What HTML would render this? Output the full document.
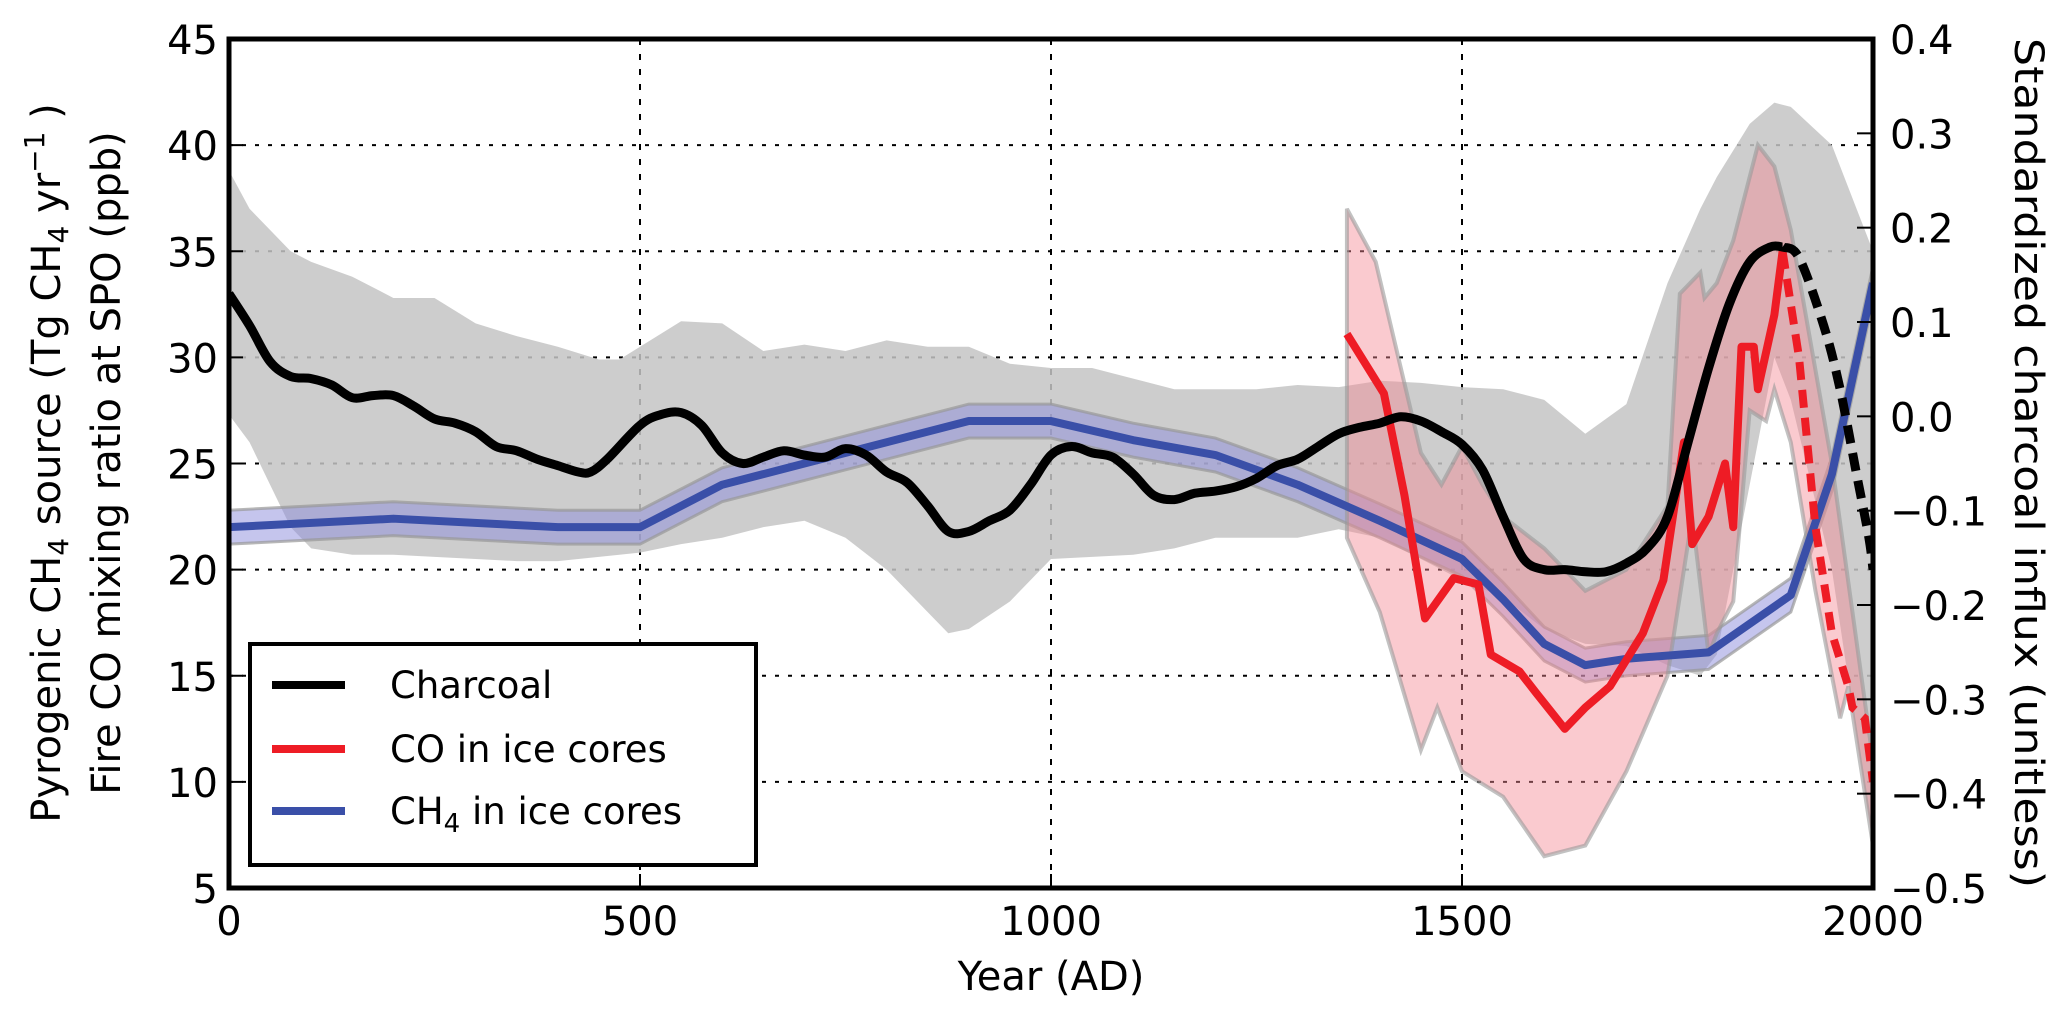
<!DOCTYPE html>
<html><head><meta charset="utf-8"><style>
html,body{margin:0;padding:0;background:#fff;}
svg{display:block;font-family:"DejaVu Sans","Liberation Sans",sans-serif;}
</style></head><body>
<svg id="chart" width="2067" height="1016" viewBox="0 0 2067 1016">
<defs><clipPath id="pc"><rect x="229" y="39" width="1644" height="849"/></clipPath></defs>
<g id="grid"></g>
<g id="plot" clip-path="url(#pc)"></g>
<rect x="229" y="39" width="1644" height="849" fill="none" stroke="#000" stroke-width="5"/>
<g id="axes"></g>
<text x="1051" y="990" font-size="40" text-anchor="middle">Year (AD)</text>
<text transform="translate(60,463) rotate(-90)" font-size="40" text-anchor="middle">Pyrogenic CH<tspan font-size="28" dy="8">4</tspan><tspan dy="-8"> source (Tg CH</tspan><tspan font-size="28" dy="8">4</tspan><tspan dy="-8"> yr</tspan><tspan font-size="28" dy="-16">−1</tspan><tspan dy="16"> )</tspan></text>
<text transform="translate(120,463) rotate(-90)" font-size="40" text-anchor="middle">Fire CO mixing ratio at SPO (ppb)</text>
<text transform="translate(2015,463) rotate(90)" font-size="40" text-anchor="middle" textLength="850" lengthAdjust="spacingAndGlyphs">Standardized charcoal influx (unitless)</text>
<g>
<rect x="250" y="644" width="506" height="221" fill="#fff" stroke="#000" stroke-width="4"/>
<line x1="272" y1="685" x2="345" y2="685" stroke="#000" stroke-width="8"/>
<text x="390" y="698" font-size="37">Charcoal</text>
<line x1="272" y1="749" x2="345" y2="749" stroke="#ee1c25" stroke-width="8"/>
<text x="390" y="762" font-size="37">CO in ice cores</text>
<line x1="272" y1="811" x2="345" y2="811" stroke="#3a4fa8" stroke-width="8"/>
<text x="390" y="824" font-size="37">CH<tspan font-size="26" dy="8">4</tspan><tspan dy="-8"> in ice cores</tspan></text>
</g>
</svg>
<script>
const xTicks=[0,500,1000,1500,2000];
const yTicksLeft=[5,10,15,20,25,30,35,40,45];
const yTicksRight=[-0.5,-0.4,-0.3,-0.2,-0.1,0.0,0.1,0.2,0.3,0.4];
const yTickLabelsRight=["−0.5","−0.4","−0.3","−0.2","−0.1","0.0","0.1","0.2","0.3","0.4"];
const charYears=[0,25,50,75,100,125,150,175,200,225,250,275,300,325,350,375,400,425,440,460,500,525,550,575,600,625,650,675,700,725,750,775,800,825,850,875,900,925,950,975,1000,1025,1050,1075,1100,1125,1150,1175,1200,1225,1250,1275,1300,1325,1350,1375,1400,1425,1450,1475,1500,1525,1550,1575,1600,1625,1650,1675,1700,1725,1750,1775,1800,1825,1850,1875,1890];
const charVals=[33,31.5,29.8,29.1,29,28.7,28.1,28.2,28.2,27.7,27.1,26.9,26.5,25.8,25.6,25.2,24.9,24.6,24.6,25.2,26.8,27.3,27.4,26.8,25.5,25.0,25.3,25.6,25.4,25.3,25.7,25.4,24.6,24.1,23.0,21.8,21.8,22.3,22.8,24.0,25.4,25.8,25.5,25.3,24.5,23.5,23.3,23.6,23.7,23.9,24.3,24.9,25.2,25.8,26.4,26.7,26.9,27.2,27.0,26.5,25.9,24.7,22.5,20.5,20.0,20.0,19.9,19.9,20.3,21.0,22.5,26.0,29.5,32.5,34.5,35.2,35.2];
const charDashYears=[1890,1910,1940,1960,1980,1995,2000];
const charDashVals=[35.2,34.7,31.5,28.5,24.5,21.5,20];
const charBandYears=[0,25,50,75,100,150,200,250,300,350,400,450,475,500,550,600,650,700,750,800,850,875,900,950,1000,1050,1100,1150,1200,1250,1300,1350,1400,1450,1500,1550,1600,1650,1700,1750,1790,1810,1850,1880,1900,1950,2000];
const charBandUpper=[38.8,37,36,35,34.5,33.8,32.8,32.8,31.6,31,30.5,29.9,29.9,30.5,31.7,31.6,30.3,30.6,30.3,30.8,30.5,30.5,30.5,29.7,29.5,29.5,29,28.5,28.5,28.5,28.7,28.6,28.9,28.8,28.6,28.5,28,26.4,27.8,33.5,37,38.5,41,42,41.8,40,35];
const charBandLower=[27.3,26,24,22,21,20.7,20.7,20.6,20.5,20.4,20.4,20.6,20.7,20.8,21.2,21.5,22,22.3,21.5,20,18,17,17.2,18.5,20.5,20.6,20.7,21,21.5,21.5,21.5,21.9,21.5,20.5,19.5,18.7,17.2,16.5,16.4,15.5,15,16,24,30,28,20,7];
const ch4Years=[0,200,400,500,600,700,900,1000,1100,1200,1300,1400,1500,1550,1600,1650,1700,1800,1900,1950,2000];
const ch4Vals=[22,22.4,22,22,24,25,27,27,26.1,25.4,24,22.3,20.5,18.6,16.5,15.5,15.8,16.1,18.8,24.5,33.5];
const ch4Err=0.8;
const coYears=[1360,1405,1430,1455,1490,1520,1535,1570,1590,1625,1650,1680,1720,1745,1770,1780,1800,1820,1830,1840,1855,1860,1880,1890];
const coVals=[31.1,28.3,23.5,17.7,19.6,19.3,16,15.2,14.2,12.5,13.5,14.5,17,19.5,26,21.2,22.5,25,22,30.5,30.5,28.5,32,35];
const coDashYears=[1890,1910,1930,1950,1970,1975,1990,2000];
const coDashVals=[35,30,22,17,14.5,13.5,13,10];
const coBandYears=[1360,1395,1450,1475,1500,1525,1550,1600,1650,1700,1750,1765,1790,1795,1810,1830,1860,1880,1900,1950,1975,2000];
const coBandUpper=[37,34.5,25.5,24,25.8,24,22.5,21,19,20,23,33,34,32.8,33.5,35.5,40,39,36,25,18,11];
const coBandLowerYears=[1360,1400,1450,1470,1500,1550,1600,1650,1700,1750,1780,1800,1810,1830,1850,1870,1880,1900,1930,1960,1970,2000];
const coBandLower=[21.5,18,11.5,13.5,10.5,9.3,6.5,7,10.5,15,22.5,16,17,18.5,27.5,27,28.5,26,19,13,14.5,7];

const X0=229,X1=1873,Y0=888,Y1=39;
const sx=v=>X0+(v-0)/2000*(X1-X0);
const sy=v=>Y0-(v-5)/40*(Y0-Y1);
const syR=v=>Y0-(v+0.5)/0.9*(Y0-Y1);
const NS='http://www.w3.org/2000/svg';
function mk(tag,parent){const e=document.createElementNS(NS,tag);parent.appendChild(e);return e;}
function pts(xs,ys){return xs.map((x,i)=>[sx(x),sy(ys[i])]);}
function smooth(p){let d='M'+p[0][0]+','+p[0][1];for(let i=0;i<p.length-1;i++){const p0=p[i-1]||p[i],p1=p[i],p2=p[i+1],p3=p[i+2]||p2;d+=' C'+(p1[0]+(p2[0]-p0[0])/6)+','+(p1[1]+(p2[1]-p0[1])/6)+' '+(p2[0]-(p3[0]-p1[0])/6)+','+(p2[1]-(p3[1]-p1[1])/6)+' '+p2[0]+','+p2[1];}return d;}
function poly(p){return 'M'+p.map(q=>q[0]+','+q[1]).join(' L');}
const grid=document.getElementById('grid'),plot=document.getElementById('plot'),axes=document.getElementById('axes');
yTicksLeft.forEach(v=>{if(v===5||v===45)return;const l=mk('line',grid);l.setAttribute('x1',X0);l.setAttribute('x2',X1);l.setAttribute('y1',sy(v));l.setAttribute('y2',sy(v));l.setAttribute('stroke','#000');l.setAttribute('stroke-width','2');l.setAttribute('stroke-dasharray','4,9');

});
xTicks.forEach(v=>{if(v===0||v===2000)return;const l=mk('line',grid);l.setAttribute('x1',sx(v));l.setAttribute('x2',sx(v));l.setAttribute('y1',Y1);l.setAttribute('y2',Y0);l.setAttribute('stroke','#000');l.setAttribute('stroke-width','2');l.setAttribute('stroke-dasharray','6,9');

});
{const up=pts(charBandYears,charBandUpper),lo=pts(charBandYears,charBandLower).reverse();const p=mk('path',plot);p.setAttribute('d',poly(up.concat(lo))+'Z');p.setAttribute('fill','#c4c4c4');p.setAttribute('fill-opacity','0.85');

}
{const up=pts(ch4Years,ch4Vals.map(v=>v+ch4Err)),lo=pts(ch4Years,ch4Vals.map(v=>v-ch4Err)).reverse();const p=mk('path',plot);p.setAttribute('d',poly(up.concat(lo))+'Z');p.setAttribute('fill','#8c8cdc');p.setAttribute('fill-opacity','0.5');p.setAttribute('stroke','#999');p.setAttribute('stroke-opacity','0.7');p.setAttribute('stroke-width','3');

}
{const up=pts(coBandYears,coBandUpper),lo=pts(coBandLowerYears,coBandLower).reverse();const p=mk('path',plot);p.setAttribute('d',poly(up.concat(lo))+'Z');p.setAttribute('fill','#f48a94');p.setAttribute('fill-opacity','0.45');p.setAttribute('stroke','#999');p.setAttribute('stroke-opacity','0.6');p.setAttribute('stroke-width','4');

}
{const p=mk('path',plot);p.setAttribute('d',poly(pts(ch4Years,ch4Vals)));p.setAttribute('fill','none');p.setAttribute('stroke','#3a4fa8');p.setAttribute('stroke-width','8');p.setAttribute('stroke-linejoin','round');

}
{const p=mk('path',plot);p.setAttribute('d',poly(pts(coYears,coVals)));p.setAttribute('fill','none');p.setAttribute('stroke','#ee1c25');p.setAttribute('stroke-width','8');p.setAttribute('stroke-linejoin','round');

}
{const p=mk('path',plot);p.setAttribute('d',poly(pts(coDashYears,coDashVals)));p.setAttribute('fill','none');p.setAttribute('stroke','#ee1c25');p.setAttribute('stroke-width','8');p.setAttribute('stroke-dasharray','18,10');

}
{const p=mk('path',plot);p.setAttribute('d',smooth(pts(charYears,charVals)));p.setAttribute('fill','none');p.setAttribute('stroke','#000');p.setAttribute('stroke-width','9');p.setAttribute('stroke-linejoin','round');

}
{const p=mk('path',plot);p.setAttribute('d',smooth(pts(charDashYears,charDashVals)));p.setAttribute('fill','none');p.setAttribute('stroke','#000');p.setAttribute('stroke-width','9');p.setAttribute('stroke-dasharray','18,10');

}
xTicks.forEach(v=>{const t=mk('text',axes);t.setAttribute('x',sx(v));t.setAttribute('y',935);t.setAttribute('font-size','40');t.setAttribute('text-anchor','middle');t.textContent=String(v);


const l=mk('line',axes);l.setAttribute('x1',sx(v));l.setAttribute('x2',sx(v));l.setAttribute('y1',Y0);l.setAttribute('y2',Y0-14);l.setAttribute('stroke','#000');l.setAttribute('stroke-width','2');

});
yTicksLeft.forEach(v=>{const t=mk('text',axes);t.setAttribute('x',218);t.setAttribute('y',sy(v)+15);t.setAttribute('font-size','40');t.setAttribute('text-anchor','end');t.textContent=String(v);


const l=mk('line',axes);l.setAttribute('x1',X0);l.setAttribute('x2',X0+14);l.setAttribute('y1',sy(v));l.setAttribute('y2',sy(v));l.setAttribute('stroke','#000');l.setAttribute('stroke-width','2');

});
yTicksRight.forEach((v,i)=>{const t=mk('text',axes);t.setAttribute('x',1890);t.setAttribute('y',syR(v)+15);t.setAttribute('font-size','40');t.textContent=yTickLabelsRight[i];


const l=mk('line',axes);l.setAttribute('x1',X1);l.setAttribute('x2',X1-16);l.setAttribute('y1',syR(v));l.setAttribute('y2',syR(v));l.setAttribute('stroke','#000');l.setAttribute('stroke-width','2');

});
</script>
</body></html>
